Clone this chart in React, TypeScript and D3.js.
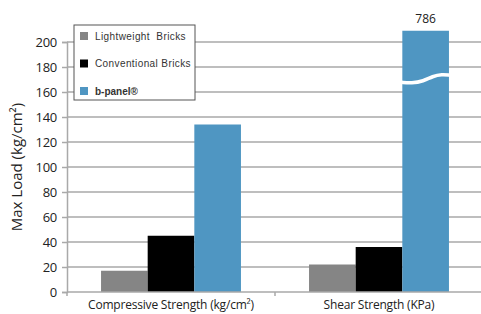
import React, { useEffect, useRef } from 'react';
import * as d3 from 'd3';

const categories = ['Compressive Strength (kg/cm²)', 'Shear Strength (KPa)'];
const seriesNames = ['Lightweight  Bricks', 'Conventional Bricks', 'b-panel®'];
const lightweight = [17, 22];
const conventional = [45, 36];
const bpanel = [134, 209];
const bpanelLabels = ['', '786'];
const yTicks = [0, 20, 40, 60, 80, 100, 120, 140, 160, 180, 200];
const breakValue = 171;

const colors = ['#858585', '#000000', '#4f96c2'];

export default function App() {
  const ref = useRef<SVGSVGElement>(null);

  useEffect(() => {
    const svg = d3.select(ref.current);
    svg.selectAll('*').remove();

    const width = 481;
    const left = 67, right = 483, top = 42, bottom = 292;

    const y = d3.scaleLinear().domain([0, 200]).range([bottom, top]);
    const x0 = d3.scaleBand().domain(categories).range([left, right]).paddingInner(0).paddingOuter(0);
    const x1 = d3.scaleBand().domain(seriesNames).range([0, x0.bandwidth()]).paddingOuter(0.73).paddingInner(0);

    const font = '"Open Sans", "Liberation Sans", sans-serif';

    // grid lines
    svg.append('g')
      .selectAll('line')
      .data(yTicks.filter(d => d > 0))
      .enter()
      .append('line')
      .attr('x1', left)
      .attr('x2', width)
      .attr('y1', d => y(d))
      .attr('y2', d => y(d))
      .attr('stroke', '#a9a9a9')
      .attr('stroke-width', 1.5);

    // y axis
    const yAxis = svg.append('g').attr('transform', `translate(${left},0)`)
      .call(d3.axisLeft(y).tickValues(yTicks).tickSize(5).tickPadding(5));
    yAxis.select('.domain').attr('stroke', '#a9a9a9').attr('stroke-width', 1.5);
    yAxis.selectAll('.tick line').attr('stroke', '#a9a9a9').attr('stroke-width', 1.5);
    yAxis.selectAll('.tick text')
      .attr('font-family', font)
      .attr('font-size', 13)
      .attr('letter-spacing', -0.3)
      .attr('fill', '#222');

    // bars
    const data = categories.map((c, i) => ({
      cat: c,
      values: [lightweight[i], conventional[i], bpanel[i]],
      label: bpanelLabels[i],
    }));

    const groups = svg.append('g')
      .selectAll('g')
      .data(data)
      .enter()
      .append('g')
      .attr('transform', d => `translate(${x0(d.cat)},0)`);

    groups.selectAll('rect')
      .data(d => d.values.map((v, j) => ({ v, s: seriesNames[j], j })))
      .enter()
      .append('rect')
      .attr('x', d => x1(d.s)!)
      .attr('width', x1.bandwidth())
      .attr('y', d => y(d.v))
      .attr('height', d => bottom - y(d.v))
      .attr('fill', d => colors[d.j]);

    // axis break and value label on the truncated bar
    data.forEach(d => {
      if (!d.label) return;
      const bx = x0(d.cat)! + x1(seriesNames[2])!;
      const bw = x1.bandwidth();
      const yb = y(breakValue);
      const wave = d3.line<[number, number]>().curve(d3.curveBasis);
      svg.append('path')
        .attr('d', wave([
          [bx - 1, yb + 4],
          [bx + bw * 0.2, yb + 5],
          [bx + bw * 0.45, yb + 3],
          [bx + bw * 0.65, yb - 2],
          [bx + bw * 0.85, yb - 4],
          [bx + bw + 1, yb - 3],
        ]))
        .attr('fill', 'none')
        .attr('stroke', '#fff')
        .attr('stroke-width', 3.5);
      svg.append('text')
        .attr('x', bx + bw / 2)
        .attr('y', y(d.values[2]) - 8)
        .attr('text-anchor', 'middle')
        .attr('font-family', font)
        .attr('font-size', 12)
        .attr('fill', '#222')
        .text(d.label);
    });

    // x axis
    svg.append('line')
      .attr('x1', left).attr('x2', width)
      .attr('y1', bottom).attr('y2', bottom)
      .attr('stroke', '#a9a9a9').attr('stroke-width', 1.5);
    const xEdges = [left, ...categories.map(c => x0(c)! + x0.bandwidth())];
    svg.append('g').selectAll('line')
      .data(xEdges)
      .enter()
      .append('line')
      .attr('x1', d => d).attr('x2', d => d)
      .attr('y1', bottom).attr('y2', bottom + 4)
      .attr('stroke', '#a9a9a9').attr('stroke-width', 1.5);

    svg.append('g').selectAll('text')
      .data(categories)
      .enter()
      .append('text')
      .attr('x', d => x0(d)! + x0.bandwidth() / 2)
      .attr('y', 309)
      .attr('text-anchor', 'middle')
      .attr('font-family', font)
      .attr('font-size', 12)
      .attr('letter-spacing', -0.2)
      .attr('fill', '#222')
      .text(d => d);

    // y title
    svg.append('text')
      .attr('transform', `translate(22,167) rotate(-90)`)
      .attr('text-anchor', 'middle')
      .attr('font-family', font)
      .attr('font-size', 15)
      .attr('fill', '#222')
      .text('Max Load (kg/cm²)');

    // legend
    const legend = svg.append('g').attr('transform', 'translate(74,25)');
    legend.append('rect')
      .attr('width', 121).attr('height', 75)
      .attr('fill', '#fff')
      .attr('stroke', '#555').attr('stroke-width', 1);
    seriesNames.forEach((s, i) => {
      const ly = 11 + i * 27.5;
      legend.append('rect')
        .attr('x', 6).attr('y', ly - 4)
        .attr('width', 8).attr('height', 8)
        .attr('fill', colors[i]);
      legend.append('text')
        .attr('x', 21).attr('y', ly + 3.5)
        .attr('font-family', '"Liberation Sans", Arial, sans-serif')
        .attr('font-size', 10)
        .attr('letter-spacing', i === 2 ? 0 : 0.4)
        .attr('font-weight', i === 2 ? 'bold' : 'normal')
        .attr('fill', '#333')
        .attr('xml:space', 'preserve')
        .text(s);
    });
  }, []);

  return (
    <svg ref={ref} width={481} height={314}
      style={{ position: 'absolute', left: 0, top: 0, background: '#fff' }} />
  );
}
